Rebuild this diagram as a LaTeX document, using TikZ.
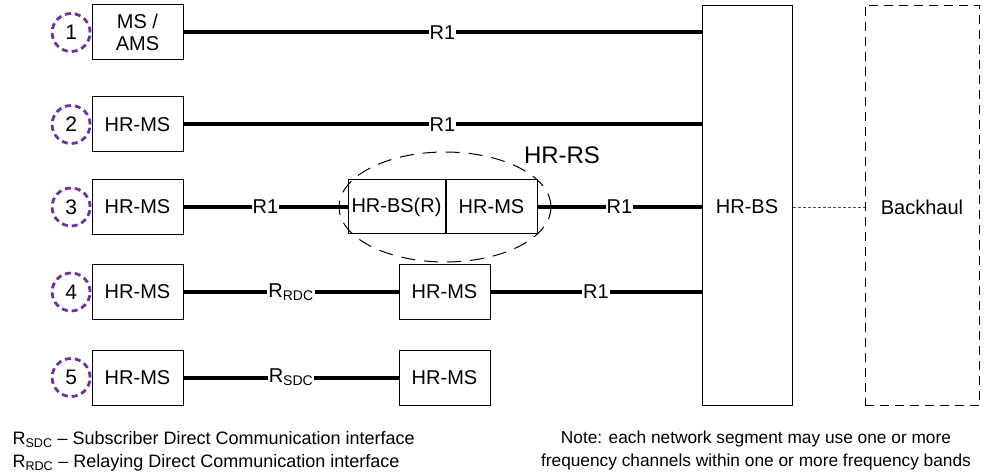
\documentclass[tikz,border=0pt]{standalone}
\usepackage{fontspec}
\setmainfont{Liberation Sans}
\usetikzlibrary{positioning,shapes.geometric}
\definecolor{segpurple}{RGB}{112,48,160}

\begin{document}
\begin{tikzpicture}[x=1pt,y=-1pt,
    box/.style={draw,line width=1pt,minimum width=91pt,minimum height=55pt,
      inner sep=0pt,align=center,font=\fontsize{20}{22}\selectfont},
    num/.style={draw=segpurple,line width=2.8pt,dash pattern=on 6pt off 4pt,
      circle,minimum size=38pt,inner sep=0pt,font=\fontsize{21}{22}\selectfont},
    link/.style={line width=4pt},
    lbl/.style={fill=white,inner sep=1pt,font=\fontsize{20}{22}\selectfont}]
  \useasboundingbox (0,0) rectangle (989,476);
  % core network side
  \node[draw,line width=1pt,minimum width=90pt,minimum height=400pt] (hrbs) at (747,205.5) {};
  \node[draw,line width=1pt,dash pattern=on 9pt off 6pt,minimum width=114pt,
    minimum height=400pt] (bh) at (922,205.5) {};
  % relay station
  \node[draw,line width=1pt,dash pattern=on 14pt off 9pt,ellipse,minimum width=212pt,
    minimum height=110pt] (rs) at (445,207) {};
  \node[font=\fontsize{24}{26}\selectfont] (rslbl) at (562,155) {HR-RS};
  \node[box,minimum width=97pt,minimum height=54pt] (rbs) at (396.5,207) {HR-BS(R)};
  \node[box,minimum height=54pt,right=0pt of rbs] (rms) {HR-MS};
  \node[font=\fontsize{20}{22}\selectfont] (hrbslbl) at (hrbs.center |- rbs) {HR-BS};
  \node[font=\fontsize{20}{22}\selectfont] (bhlbl) at (bh.center |- rbs) {Backhaul};
  \draw[densely dashed,line width=0.6pt,black!70] (hrbs.east |- rbs) -- (bh.west |- rbs);
  % subscriber stations
  \node[box] (ms1) at (137.5,32.5) {MS /\\AMS};
  \node[box] (ms2) at (137.5,124.5) {HR-MS};
  \node[box] (ms3) at (137.5,207) {HR-MS};
  \node[box] (ms4) at (137.5,292) {HR-MS};
  \node[box] (ms5) at (137.5,377.5) {HR-MS};
  \node[box] (pms4) at (444.5,292) {HR-MS};
  \node[box] (pms5) at (444.5,377.5) {HR-MS};
  \foreach \i in {1,...,5}
    \node[num,left=0pt of ms\i] (n\i) {\i};
  % links
  \path[link] (ms1.east) edge node[lbl] {R1} (ms1.east -| hrbs.west)
    (ms2.east) edge node[lbl] {R1} (ms2.east -| hrbs.west)
    (ms3.east) edge node[lbl] {R1} (rbs.west)
    (rms.east) edge node[lbl] {R1} (rms.east -| hrbs.west)
    (ms4.east) edge node[lbl] {R\textsubscript{RDC}} (pms4.west)
    (pms4.east) edge node[lbl] {R1} (pms4.east -| hrbs.west)
    (ms5.east) edge node[lbl] {R\textsubscript{SDC}} (pms5.west);
  % notes
  \node[anchor=west,align=left,font=\fontsize{18}{23}\selectfont] (legend) at (9,451)
    {R\textsubscript{SDC} -- Subscriber Direct Communication interface\\
     R\textsubscript{RDC} -- Relaying Direct Communication interface};
  \node[align=center,font=\fontsize{17.3}{23}\selectfont] (note) at (756,451)
    {Note: each network segment may use one or more\\
     frequency channels within one or more frequency bands};
\end{tikzpicture}
\end{document}
